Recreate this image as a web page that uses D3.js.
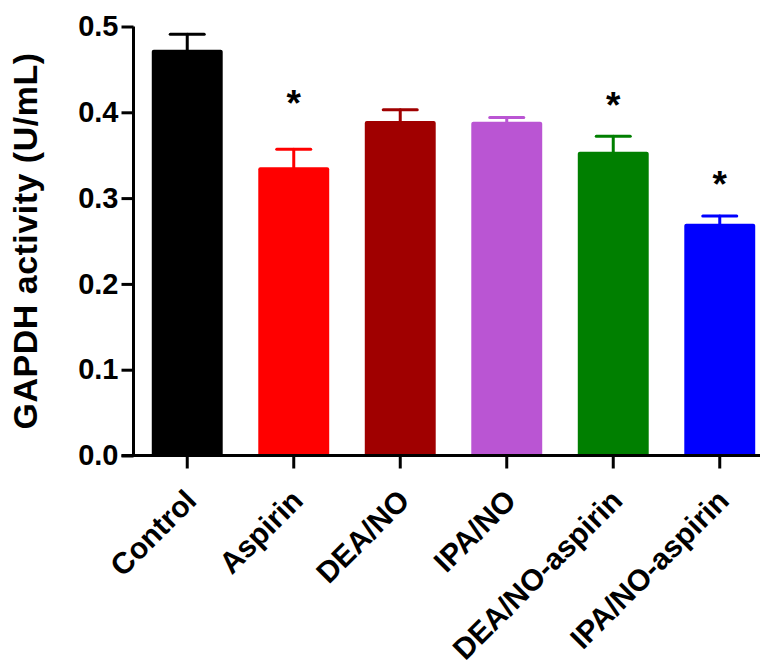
<!DOCTYPE html>
<html>
<head>
<meta charset="utf-8">
<script src="https://cdn.jsdelivr.net/npm/d3@7"></script>
<style>
  html, body { margin: 0; padding: 0; background: #fff; }
  svg { display: block; font-family: "Liberation Sans", Arial, Helvetica, sans-serif; font-weight: bold; }
</style>
</head>
<body>
<svg id="chart" width="763" height="670"></svg>
<script>
// GAPDH activity by treatment group (mean ± SEM)
const groups = ["Control", "Aspirin", "DEA/NO", "IPA/NO", "DEA/NO-aspirin", "IPA/NO-aspirin"];
const means  = [0.473, 0.336, 0.390, 0.389, 0.354, 0.270];
const sems   = [0.018, 0.021, 0.013, 0.005, 0.018, 0.009];
const colors = ["#000000", "#ff0000", "#a00000", "#ba55d3", "#007f00", "#0000ff"];
// height (in U/mL) of the significance marker, null where none
const starLevels = [null, 0.413, null, null, 0.411, 0.319];
const yTicks = [0.0, 0.1, 0.2, 0.3, 0.4, 0.5];
const yLabel = "GAPDH activity (U/mL)";

const svg = d3.select("#chart");

const x = d3.scaleBand()
  .domain(groups)
  .range([139, 768])
  .paddingInner(0.334)
  .paddingOuter(0.12);

const y = d3.scaleLinear()
  .domain([0, 0.5])
  .range([455.5, 26.5]);

const axisX = 133.5;
const axisW = 3;

// bars
svg.append("g").selectAll("rect")
  .data(groups)
  .join("rect")
  .attr("x", d => x(d))
  .attr("width", x.bandwidth())
  .attr("y", (d, i) => y(means[i]))
  .attr("height", (d, i) => y(0) - y(means[i]))
  .attr("rx", 2)
  .attr("fill", (d, i) => colors[i]);

// error bars (upper only)
const err = svg.append("g")
  .attr("stroke-width", 3)
  .attr("stroke-linecap", "round");
groups.forEach((g, i) => {
  const cx = x(g) + x.bandwidth() / 2;
  const top = y(means[i] + sems[i]);
  err.append("line")
    .attr("x1", cx).attr("x2", cx)
    .attr("y1", y(means[i])).attr("y2", top)
    .attr("stroke", colors[i]);
  err.append("line")
    .attr("x1", cx - 17).attr("x2", cx + 17)
    .attr("y1", top).attr("y2", top)
    .attr("stroke", colors[i]);
});

// significance asterisks
svg.append("g").selectAll("text")
  .data(groups.map((g, i) => ({ g, v: starLevels[i] })).filter(d => d.v !== null))
  .join("text")
  .attr("x", d => x(d.g) + x.bandwidth() / 2)
  .attr("y", d => y(d.v) + 15)
  .attr("text-anchor", "middle")
  .attr("font-size", 37)
  .attr("fill", "#000")
  .text("*");

// y axis
const gy = svg.append("g")
  .attr("transform", `translate(${axisX},0)`)
  .call(d3.axisLeft(y).tickValues(yTicks).tickFormat(d3.format(".1f")).tickSizeOuter(0).tickSize(12).tickPadding(3));
gy.select(".domain").attr("stroke-width", axisW).attr("d", `M0,${y(0.5)}V${y(0)}`);
gy.selectAll(".tick line").attr("stroke-width", axisW);
gy.selectAll(".tick text")
  .attr("font-size", 29)
  .attr("font-family", null)
  .attr("fill", "#000");

// x axis
const gx = svg.append("g")
  .attr("transform", `translate(0,${y(0)})`)
  .call(d3.axisBottom(x).tickSizeOuter(0).tickSize(13).tickFormat(""));
gx.select(".domain").remove();
gx.selectAll(".tick line").attr("stroke-width", axisW);
svg.append("line")
  .attr("x1", axisX - 12).attr("x2", 760)
  .attr("y1", y(0)).attr("y2", y(0))
  .attr("stroke", "#000")
  .attr("stroke-width", axisW);

// rotated category labels
svg.append("g").selectAll("text")
  .data(groups)
  .join("text")
  .attr("transform", d => `translate(${x(d) + x.bandwidth() / 2 + 11},${y(0) + 47}) rotate(-45)`)
  .attr("text-anchor", "end")
  .attr("font-size", 30)
  .attr("fill", "#000")
  .text(d => d);

// y axis title
svg.append("text")
  .attr("transform", "translate(37,241) rotate(-90)")
  .attr("text-anchor", "middle")
  .attr("font-size", 34)
  .attr("letter-spacing", 0.5)
  .attr("fill", "#000")
  .text(yLabel);
</script>
</body>
</html>
